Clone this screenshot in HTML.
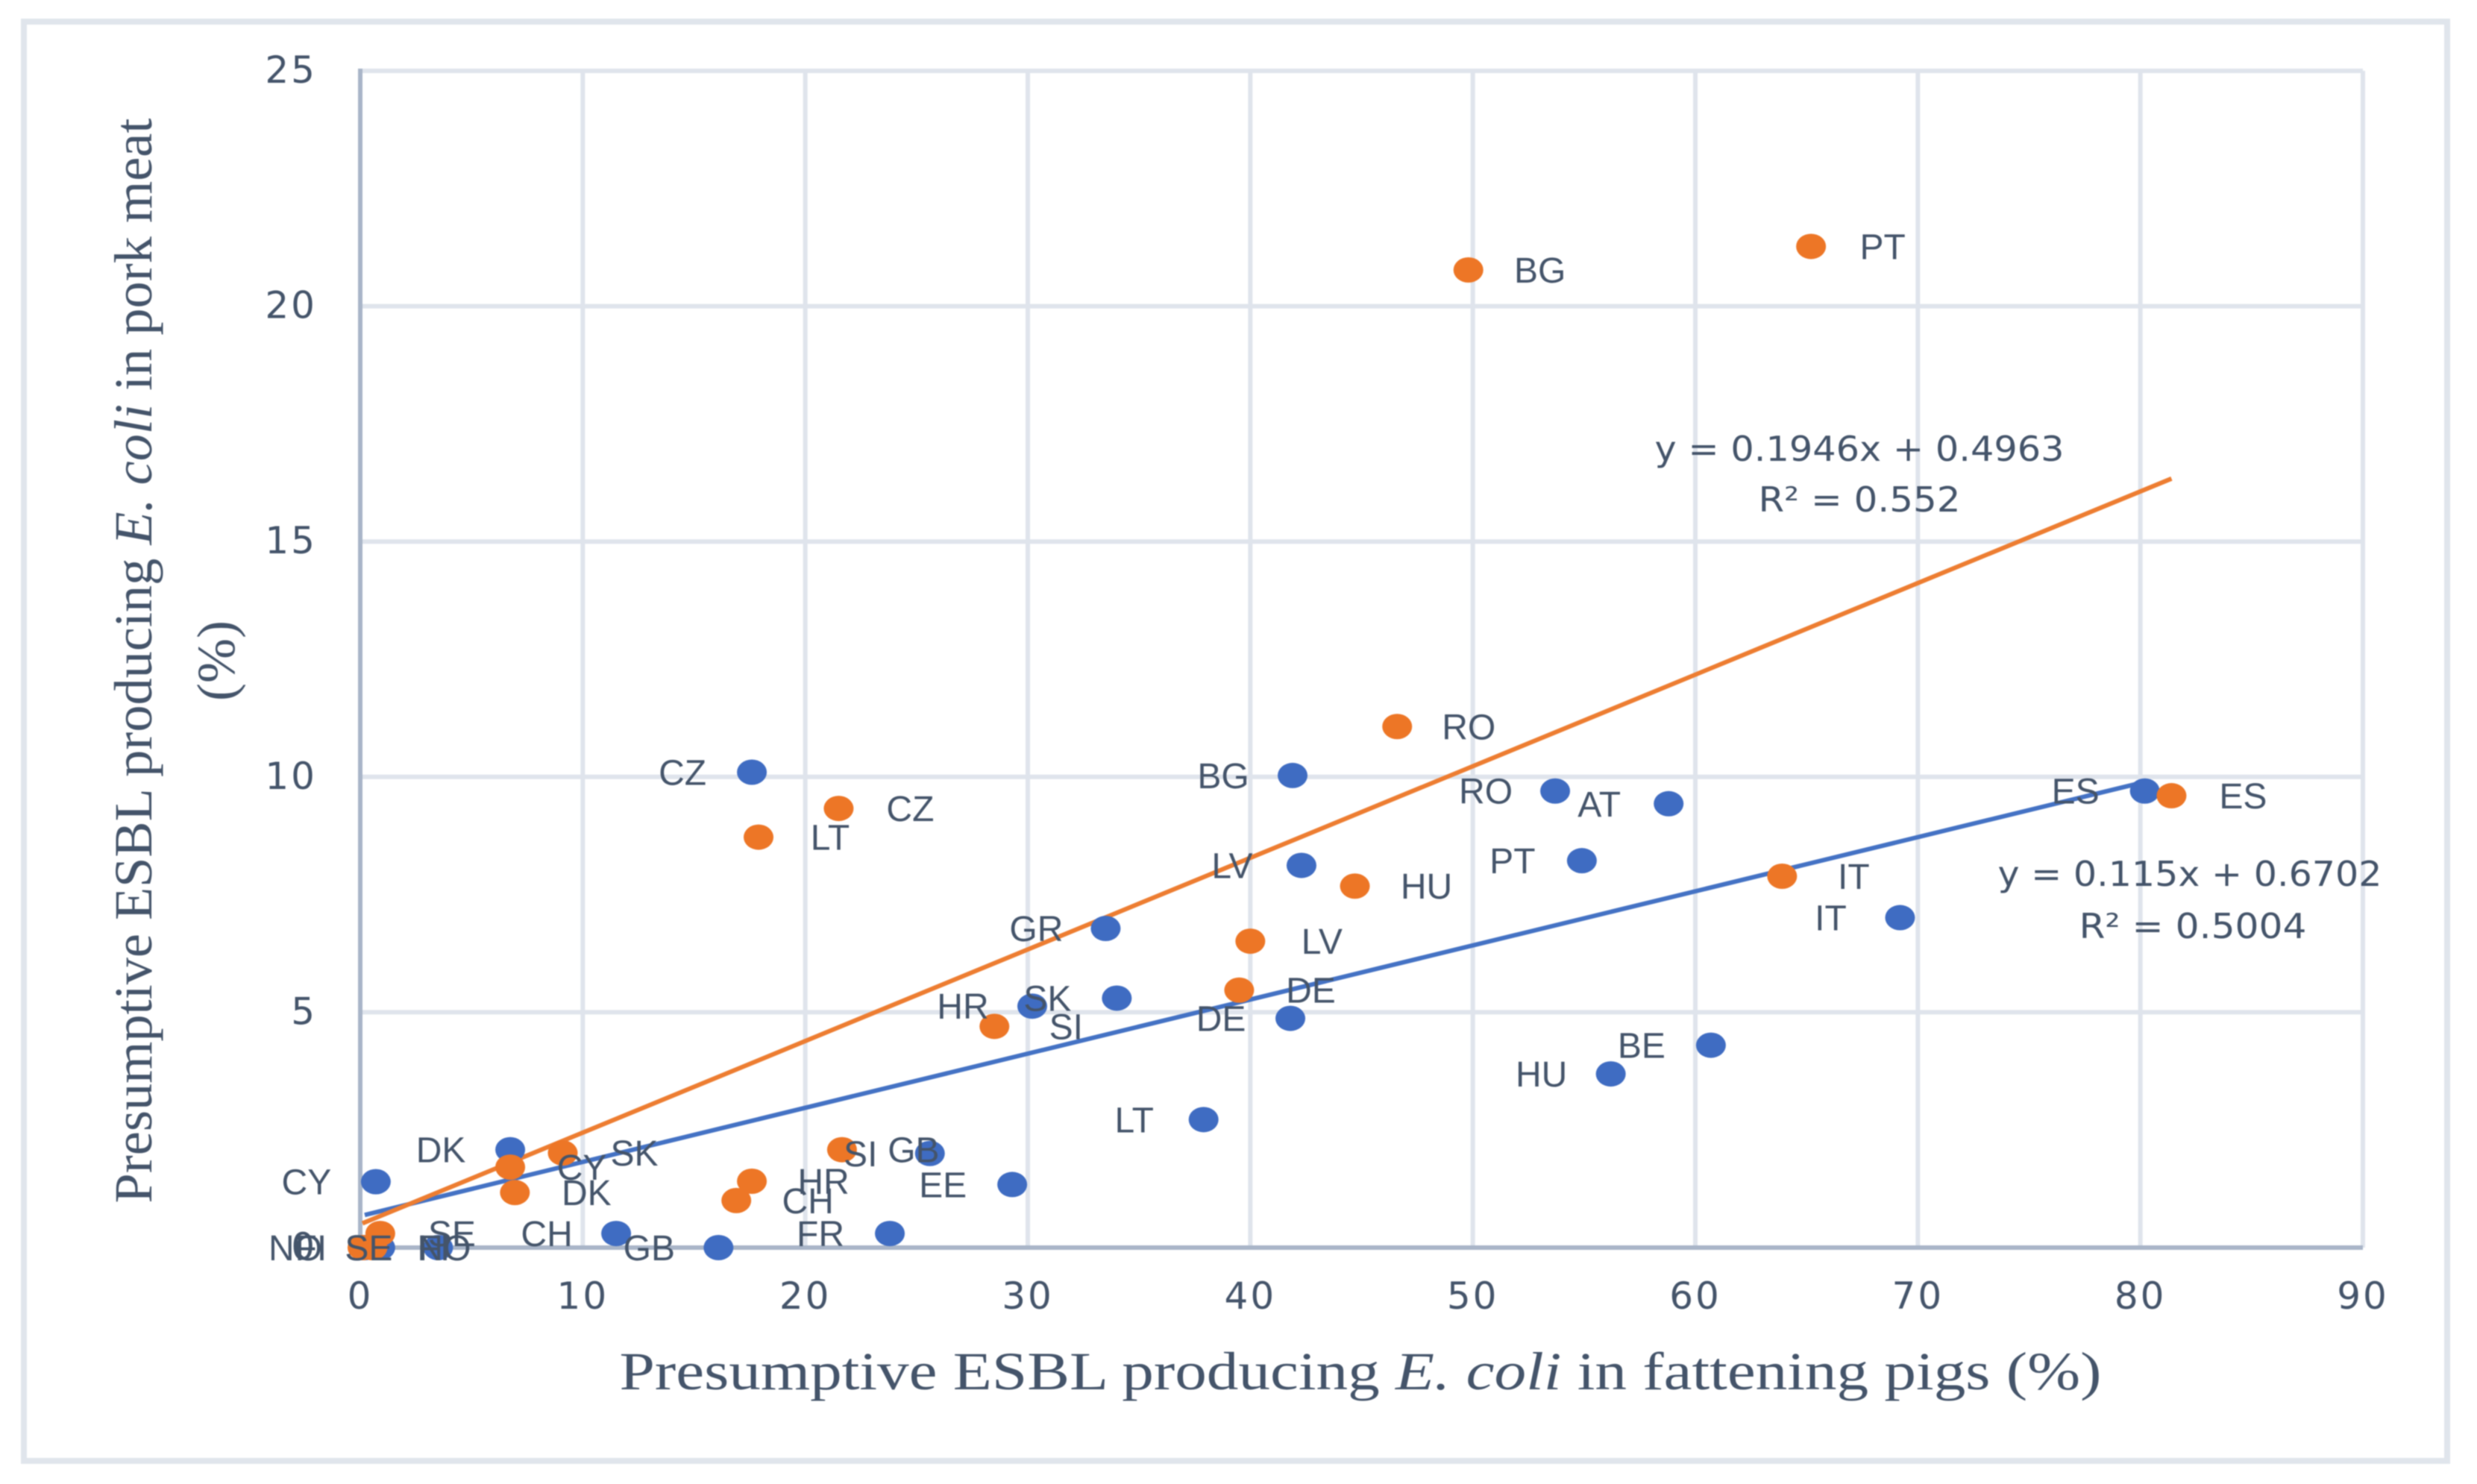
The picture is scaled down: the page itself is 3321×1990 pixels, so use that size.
<!DOCTYPE html>
<html>
<head>
<meta charset="utf-8">
<title>ESBL scatter chart</title>
<style>
html,body{margin:0;padding:0;background:#fff;width:3321px;height:1990px;overflow:hidden}
svg{display:block}
text{fill:#44546a}
#chart{filter:blur(0.9px)}
.serif{font-family:"Liberation Serif",serif}
.sans{font-family:"Liberation Sans",sans-serif}
.wide{font-family:"DejaVu Sans",sans-serif}
</style>
</head>
<body>
<svg id="chart" xmlns="http://www.w3.org/2000/svg" width="3321" height="1990" viewBox="0 0 3321 1990">
  <rect x="32" y="29" width="3249" height="1930" fill="#fff" stroke="#e0e5ec" stroke-width="8"/>
  <g id="grid"></g>
  <g id="axes"></g>
  <g id="ticks"></g>
  <g id="lines"></g>
  <g id="marks"></g>
  <g id="labels"></g>
  <text class="serif" x="1824" y="1863" text-anchor="middle" font-size="72" textLength="1987" lengthAdjust="spacingAndGlyphs">Presumptive ESBL producing <tspan font-style="italic">E. coli</tspan> in fattening pigs (%)</text>
  <text class="serif" transform="translate(203,886) rotate(-90)" text-anchor="middle" font-size="72" textLength="1455" lengthAdjust="spacingAndGlyphs">Presumptive ESBL producing <tspan font-style="italic">E. coli</tspan> in pork meat</text>
  <text class="serif" transform="translate(314,886) rotate(-90)" text-anchor="middle" font-size="72">(%)</text>
  <text class="wide" x="2493" y="618" text-anchor="middle" font-size="46" textLength="549" lengthAdjust="spacingAndGlyphs">y = 0.1946x + 0.4963</text>
  <text class="wide" x="2493" y="686" text-anchor="middle" font-size="46" textLength="271" lengthAdjust="spacingAndGlyphs">R² = 0.552</text>
  <text class="wide" x="2936" y="1188" text-anchor="middle" font-size="46" textLength="515" lengthAdjust="spacingAndGlyphs">y = 0.115x + 0.6702</text>
  <text class="wide" x="2940" y="1258" text-anchor="middle" font-size="46" textLength="305" lengthAdjust="spacingAndGlyphs">R² = 0.5004</text>
</svg>
<script>
const xTickValues = [0,10,20,30,40,50,60,70,80,90];
const yTickValues = [0,5,10,15,20,25];

const blueCountries = ["CY","DK","CH","GB","FR","EE","SI","LT","HU","BE","DE","SK","HR","GR","LV","BG","RO","AT","PT","ES","IT","CZ","NO","FI","SE"];
const blueX = [0.7,6.74,11.5,16.1,23.8,29.3,25.6,37.9,56.2,60.7,41.8,34.0,30.2,33.5,42.3,41.9,53.7,58.8,54.9,80.2,69.2,17.6,0.2,0.9,3.5];
const blueY = [1.4,2.08,0.3,0,0.3,1.34,2.0,2.72,3.69,4.3,4.87,5.3,5.13,6.78,8.12,10.03,9.7,9.43,8.22,9.7,7.01,10.1,0,0,0];

const orangeCountries = ["BG","PT","RO","CZ","LT","HU","LV","DE","IT","ES","SI","HR","CH","GB","SK","CY","DK","SE","NO","FI"];
const orangeX = [49.8,65.2,46.6,21.5,17.9,44.7,40,39.5,63.9,81.4,28.5,17.6,16.9,21.65,9.1,6.74,6.95,0.9,0.55,0.1];
const orangeY = [20.77,21.27,11.07,9.33,8.72,7.68,6.51,5.47,7.89,9.6,4.7,1.41,1.0,2.08,2.01,1.71,1.17,0.3,0,0];

const blueSlope = 0.115, blueIntercept = 0.6702;
const orangeSlope = 0.1946, orangeIntercept = 0.4963;

const NS = "http://www.w3.org/2000/svg";
const plotLeft = 483, plotRight = 3168, plotTop = 95, plotBottom = 1673;
const xMax = 90, yMax = 25;
function sx(v){ return plotLeft + v / xMax * (plotRight - plotLeft); }
function sy(v){ return plotBottom - v / yMax * (plotBottom - plotTop); }
function mk(tag, parent, attrs, txt){
  const el = document.createElementNS(NS, tag);
  for (const k in attrs) el.setAttribute(k, attrs[k]);
  if (txt !== undefined) el.textContent = txt;
  parent.appendChild(el);
  return el;
}
const grid = document.getElementById("grid");
const axes = document.getElementById("axes");
const ticks = document.getElementById("ticks");
const lines = document.getElementById("lines");
const marks = document.getElementById("marks");
const labels = document.getElementById("labels");

xTickValues.forEach(function(v){
  if (v !== 0) {
    const g = mk("line", grid, {x1:sx(v),x2:sx(v),y1:plotTop,y2:plotBottom,stroke:"#dfe4ec","stroke-width":6});
    
    
  }
  const t = mk("text", ticks, {x:sx(v),y:1755,"text-anchor":"middle","font-size":50,"letter-spacing":3,class:"wide"}, String(v));
  
  
});
yTickValues.forEach(function(v){
  if (v !== 0) {
    const g = mk("line", grid, {x1:plotLeft,x2:plotRight,y1:sy(v),y2:sy(v),stroke:"#dfe4ec","stroke-width":6});
    
    
  }
  const t = mk("text", ticks, {x:425,y:sy(v)+16,"text-anchor":"end","font-size":50,"letter-spacing":3,class:"wide"}, String(v));
  
  
});
const xAxisLine = mk("line", axes, {x1:plotLeft-3,x2:plotRight,y1:plotBottom,y2:plotBottom,stroke:"#a9b5c8","stroke-width":6});


const yAxisLine = mk("line", axes, {x1:plotLeft,x2:plotLeft,y1:plotTop-3,y2:plotBottom,stroke:"#a9b5c8","stroke-width":6});



function drawTrend(xs, slope, intercept, color){
  const a = Math.min.apply(null, xs), b = Math.max.apply(null, xs);
  const l = mk("line", lines, {x1:sx(a),y1:sy(slope*a+intercept),x2:sx(b),y2:sy(slope*b+intercept),stroke:color,"stroke-width":6});
  
  
}
drawTrend(blueX, blueSlope, blueIntercept, "#4472c4");
drawTrend(orangeX, orangeSlope, orangeIntercept, "#ed7d31");

function drawSeries(names, xs, ys, color, dx, dy){
  names.forEach(function(n, i){
    const p = mk("ellipse", marks, {cx:sx(xs[i]),cy:sy(ys[i]),rx:20,ry:17,fill:color});
    
    
    const t = mk("text", labels, {x:sx(xs[i])+dx,y:sy(ys[i])+dy,"text-anchor":"middle","font-size":48,class:"sans"}, n);
    
    
  });
}
drawSeries(blueCountries, blueX, blueY, "#3f6cc2", -93, 17);
drawSeries(orangeCountries, orangeX, orangeY, "#ed7626", 96, 17);
</script>
</body>
</html>
